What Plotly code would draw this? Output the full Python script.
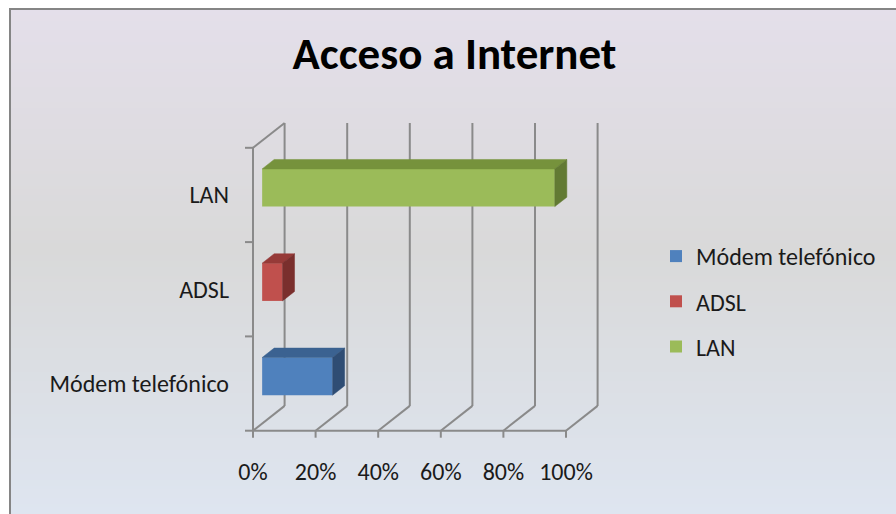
import plotly.graph_objects as go

# ---------------- data ----------------
categories = ["Módem telefónico", "ADSL", "LAN"]
values = [22.5, 6.5, 93.5]          # percent
front_colors = ["#4F81BD", "#C0504D", "#9BBB59"]
top_colors = ["#3B6291", "#963A38", "#76923C"]
side_colors = ["#2F4D74", "#7A2F2D", "#627A33"]
xtick_vals = [0, 20, 40, 60, 80, 100]
xtick_text = ["0%", "20%", "40%", "60%", "80%", "100%"]
title_text = "Acceso a Internet"

# ---------------- layout geometry ----------------
W, H = 896, 514
L, R, T, B = 244, 292, 105, 69
PW, PH = W - L - R, H - T - B
PX_PER_PCT = 3.13
PX_PER_CAT = 94.3
XMIN = -(253 - L) / PX_PER_PCT
XMAX = XMIN + PW / PX_PER_PCT
YMIN = -0.5 - ((H - B) - 430.7) / PX_PER_CAT
YMAX = YMIN + PH / PX_PER_CAT

DX = 31.6 / PX_PER_PCT      # depth vector (x, in %)
DY = 24.8 / PX_PER_CAT      # depth vector (y, in category units)
F0, F1 = 0.29, 0.67         # bar depth start / end fraction
BAR_W = 0.4
GRID = "#8a8a8a"
FONT = "Carlito, Lato, sans-serif"

def px_to_paper_x(px):
    return (px - L) / PW

def px_to_paper_y(py):
    return (H - B - py) / PH

shapes = []

# background gradient (paper coordinates)
stops = [(9, (228, 223, 234)), (250, (217, 217, 217)), (514, (222, 229, 240))]
def col_at(y):
    for (y0, c0), (y1, c1) in zip(stops[:-1], stops[1:]):
        if y0 <= y <= y1:
            t = (y - y0) / (y1 - y0)
            return "rgb(%d,%d,%d)" % tuple(round(a + (b - a) * t) for a, b in zip(c0, c1))
    return "rgb(%d,%d,%d)" % stops[-1][1]

step = 3
y = 9
while y < H:
    shapes.append(dict(type="rect", xref="paper", yref="paper", layer="below",
                       x0=px_to_paper_x(10), x1=px_to_paper_x(W + 5),
                       y0=px_to_paper_y(y), y1=px_to_paper_y(min(y + step + 1, H + 5)),
                       fillcolor=col_at(y + step / 2), line=dict(width=0)))
    y += step
# outer frame
shapes.append(dict(type="rect", xref="paper", yref="paper", layer="below",
                   x0=px_to_paper_x(10), x1=px_to_paper_x(W + 20),
                   y0=px_to_paper_y(9), y1=px_to_paper_y(H + 20),
                   fillcolor="rgba(0,0,0,0)", line=dict(color="#858585", width=2)))

def seg(x0, y0, x1, y1):
    shapes.append(dict(type="line", xref="x", yref="y", layer="below",
                       x0=x0, y0=y0, x1=x1, y1=y1, line=dict(color=GRID, width=2)))

n = len(categories)
ytop = n - 0.5
for t in xtick_vals:
    seg(t + DX, -0.5 + DY, t + DX, ytop + DY)     # back wall
    seg(t, -0.5, t + DX, -0.5 + DY)               # floor diagonal
    seg(t, -0.5, t, -0.5 - 7 / PX_PER_CAT)        # tick
seg(0, -0.5, 0, ytop)                              # left wall front edge
seg(0, ytop, DX, ytop + DY)                        # left wall top edge
seg(0, -0.5, xtick_vals[-1], -0.5)                 # floor front edge
for k in range(n + 1):
    b = k - 0.5
    seg(0, b, -8 / PX_PER_PCT, b)                  # category ticks

fig = go.Figure()

xs = F0 * DX
ys = F0 * DY
ddx = (F1 - F0) * DX
ddy = (F1 - F0) * DY
hw = BAR_W / 2
for i, (cat, v) in enumerate(zip(categories, values)):
    fig.add_trace(go.Bar(y=[i + ys], x=[v], base=[xs], width=BAR_W, orientation="h",
                         name=cat, legendgroup=cat,
                         marker=dict(color=front_colors[i], line=dict(width=0)),
                         hoverinfo="skip"))
for i, (cat, v) in enumerate(zip(categories, values)):
    yc = i + ys
    fig.add_trace(go.Scatter(
        x=[xs, xs + v, xs + v + ddx, xs + ddx, xs],
        y=[yc + hw, yc + hw, yc + hw + ddy, yc + hw + ddy, yc + hw],
        fill="toself", fillcolor=top_colors[i], mode="lines",
        line=dict(color=top_colors[i], width=0.5), showlegend=False, hoverinfo="skip"))
    fig.add_trace(go.Scatter(
        x=[xs + v, xs + v + ddx, xs + v + ddx, xs + v, xs + v],
        y=[yc - hw, yc - hw + ddy, yc + hw + ddy, yc + hw, yc - hw],
        fill="toself", fillcolor=side_colors[i], mode="lines",
        line=dict(color=side_colors[i], width=0.5), showlegend=False, hoverinfo="skip"))

fig.update_layout(
    width=W, height=H,
    margin=dict(l=L, r=R, t=T, b=B, pad=0),
    paper_bgcolor="white", plot_bgcolor="rgba(0,0,0,0)",
    barmode="overlay",
    shapes=shapes,
    font=dict(family=FONT, size=24, color="#1a1a1a"),
    title=dict(text="<b>" + title_text + "</b>", xref="container", yref="container",
               x=454.5 / W, y=1 - 53 / H, xanchor="center", yanchor="middle",
               font=dict(family=FONT, size=45, color="#000000")),
    xaxis=dict(range=[XMIN, XMAX], showgrid=False, zeroline=False, showline=False,
               tickmode="array", tickvals=xtick_vals, ticktext=xtick_text,
               ticks="", ticklabelstandoff=10, fixedrange=True),
    yaxis=dict(range=[YMIN, YMAX], showgrid=False, zeroline=False, showline=False,
               tickmode="array", tickvals=list(range(n)), ticktext=categories,
               ticks="", ticklabelstandoff=14, fixedrange=True),
    legend=dict(xref="container", yref="container", x=656 / W, y=1 - 234 / H,
                xanchor="left", yanchor="top", bgcolor="rgba(0,0,0,0)",
                font=dict(family=FONT, size=24, color="#1a1a1a"),
                tracegroupgap=11, traceorder="grouped"),
    showlegend=True,
)

fig.write_html("out.html")
